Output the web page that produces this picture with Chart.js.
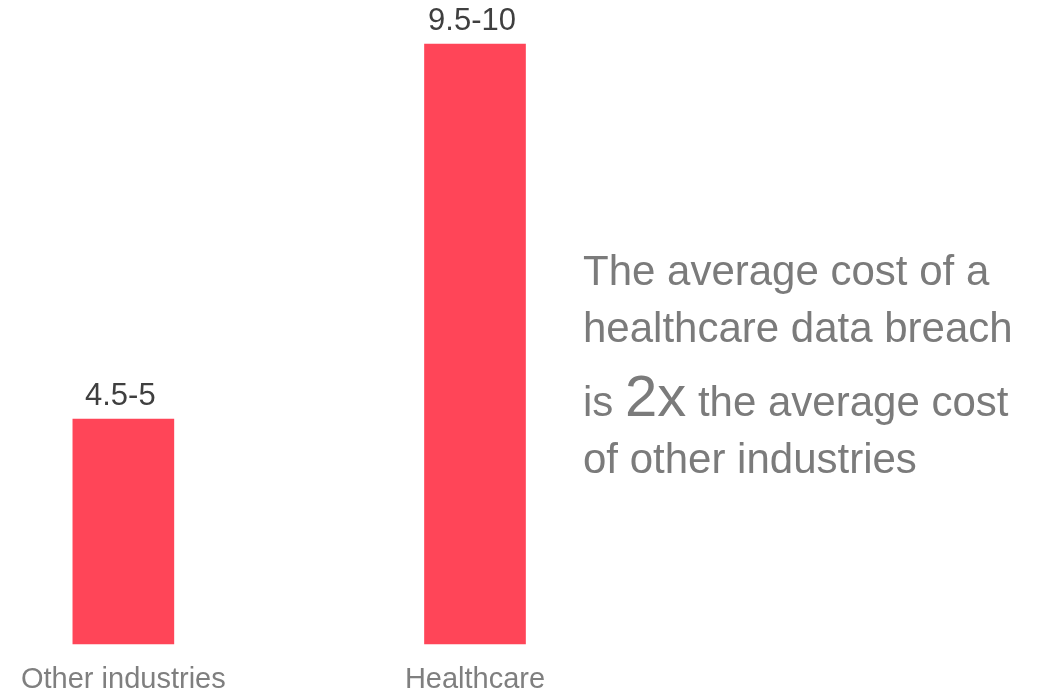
<!DOCTYPE html>
<html>
<head>
<meta charset="utf-8">
<title>Healthcare data breach cost</title>
<script src="https://cdn.jsdelivr.net/npm/chart.js@4.4.0/dist/chart.umd.min.js"></script>
<style>
  body { margin: 0; background: #fff; font-family: "Liberation Sans", Arial, sans-serif; }
  .wrap { position: relative; width: 1051px; height: 694px; }
  #costChart { position: absolute; left: 0; top: 0; }
  .note { position: absolute; left: 583px; color: #7b7b7b; font-size: 42px; line-height: 57px; white-space: nowrap; }
  .note .big { font-size: 58px; line-height: 0; }
</style>
</head>
<body>
<div class="wrap">
  <canvas id="costChart" width="1051" height="694"></canvas>
  <div class="note" style="top:242px">The average cost of a</div>
  <div class="note" style="top:299px">healthcare data breach</div>
  <div class="note" style="top:373px">is <span class="big">2x</span> the average cost</div>
  <div class="note" style="top:430px">of other industries</div>
</div>
<script>
// data (cost in $M, bar drawn at top of range)
const categories = ['Other industries', 'Healthcare'];
const costValues = [5, 10];
const valueLabels = ['4.5-5', '9.5-10'];
const Y_MIN = 2;
const Y_MAX = 10;

const BAR_COLOR = '#ff4558';

// range text above each bar
const valueLabelPlugin = {
    id: 'valueLabels',
    afterDatasetsDraw(chart) {
        const ctx = chart.ctx;
        const meta = chart.getDatasetMeta(0);
        ctx.save();
        ctx.font = '31px "Liberation Sans", Arial, sans-serif';
        ctx.fillStyle = '#3f3f3f';
        ctx.textAlign = 'center';
        ctx.textBaseline = 'alphabetic';
        meta.data.forEach((bar, i) => {
            ctx.fillText(valueLabels[i], bar.x - 3, bar.y - 14);
        });
        ctx.restore();
    }
};

new Chart(document.getElementById('costChart'), {
    type: 'bar',
    data: {
        labels: categories,
        datasets: [{
            data: costValues,
            base: Y_MIN,
            backgroundColor: BAR_COLOR,
            borderWidth: 0,
            barThickness: 101,
            clip: false
        }]
    },
    options: {
        responsive: false,
        animation: false,
        devicePixelRatio: 1,
        layout: { padding: { left: 122, right: 576, top: 44, bottom: 0 } },
        plugins: {
            legend: { display: false },
            tooltip: { enabled: false }
        },
        scales: {
            x: {
                offset: false,
                grid: { display: false, drawTicks: false },
                border: { display: false },
                ticks: {
                    color: '#7f7f7f',
                    padding: 21,
                    maxRotation: 0,
                    autoSkip: false,
                    font: { family: '"Liberation Sans", Arial, sans-serif', size: 29, lineHeight: 1 }
                },
                // keep the plot bottom where the bars end in the picture
                afterFit(scale) { scale.height = 50; }
            },
            y: {
                display: false,
                min: Y_MIN,
                max: Y_MAX
            }
        }
    },
    plugins: [valueLabelPlugin]
});
</script>
</body>
</html>
